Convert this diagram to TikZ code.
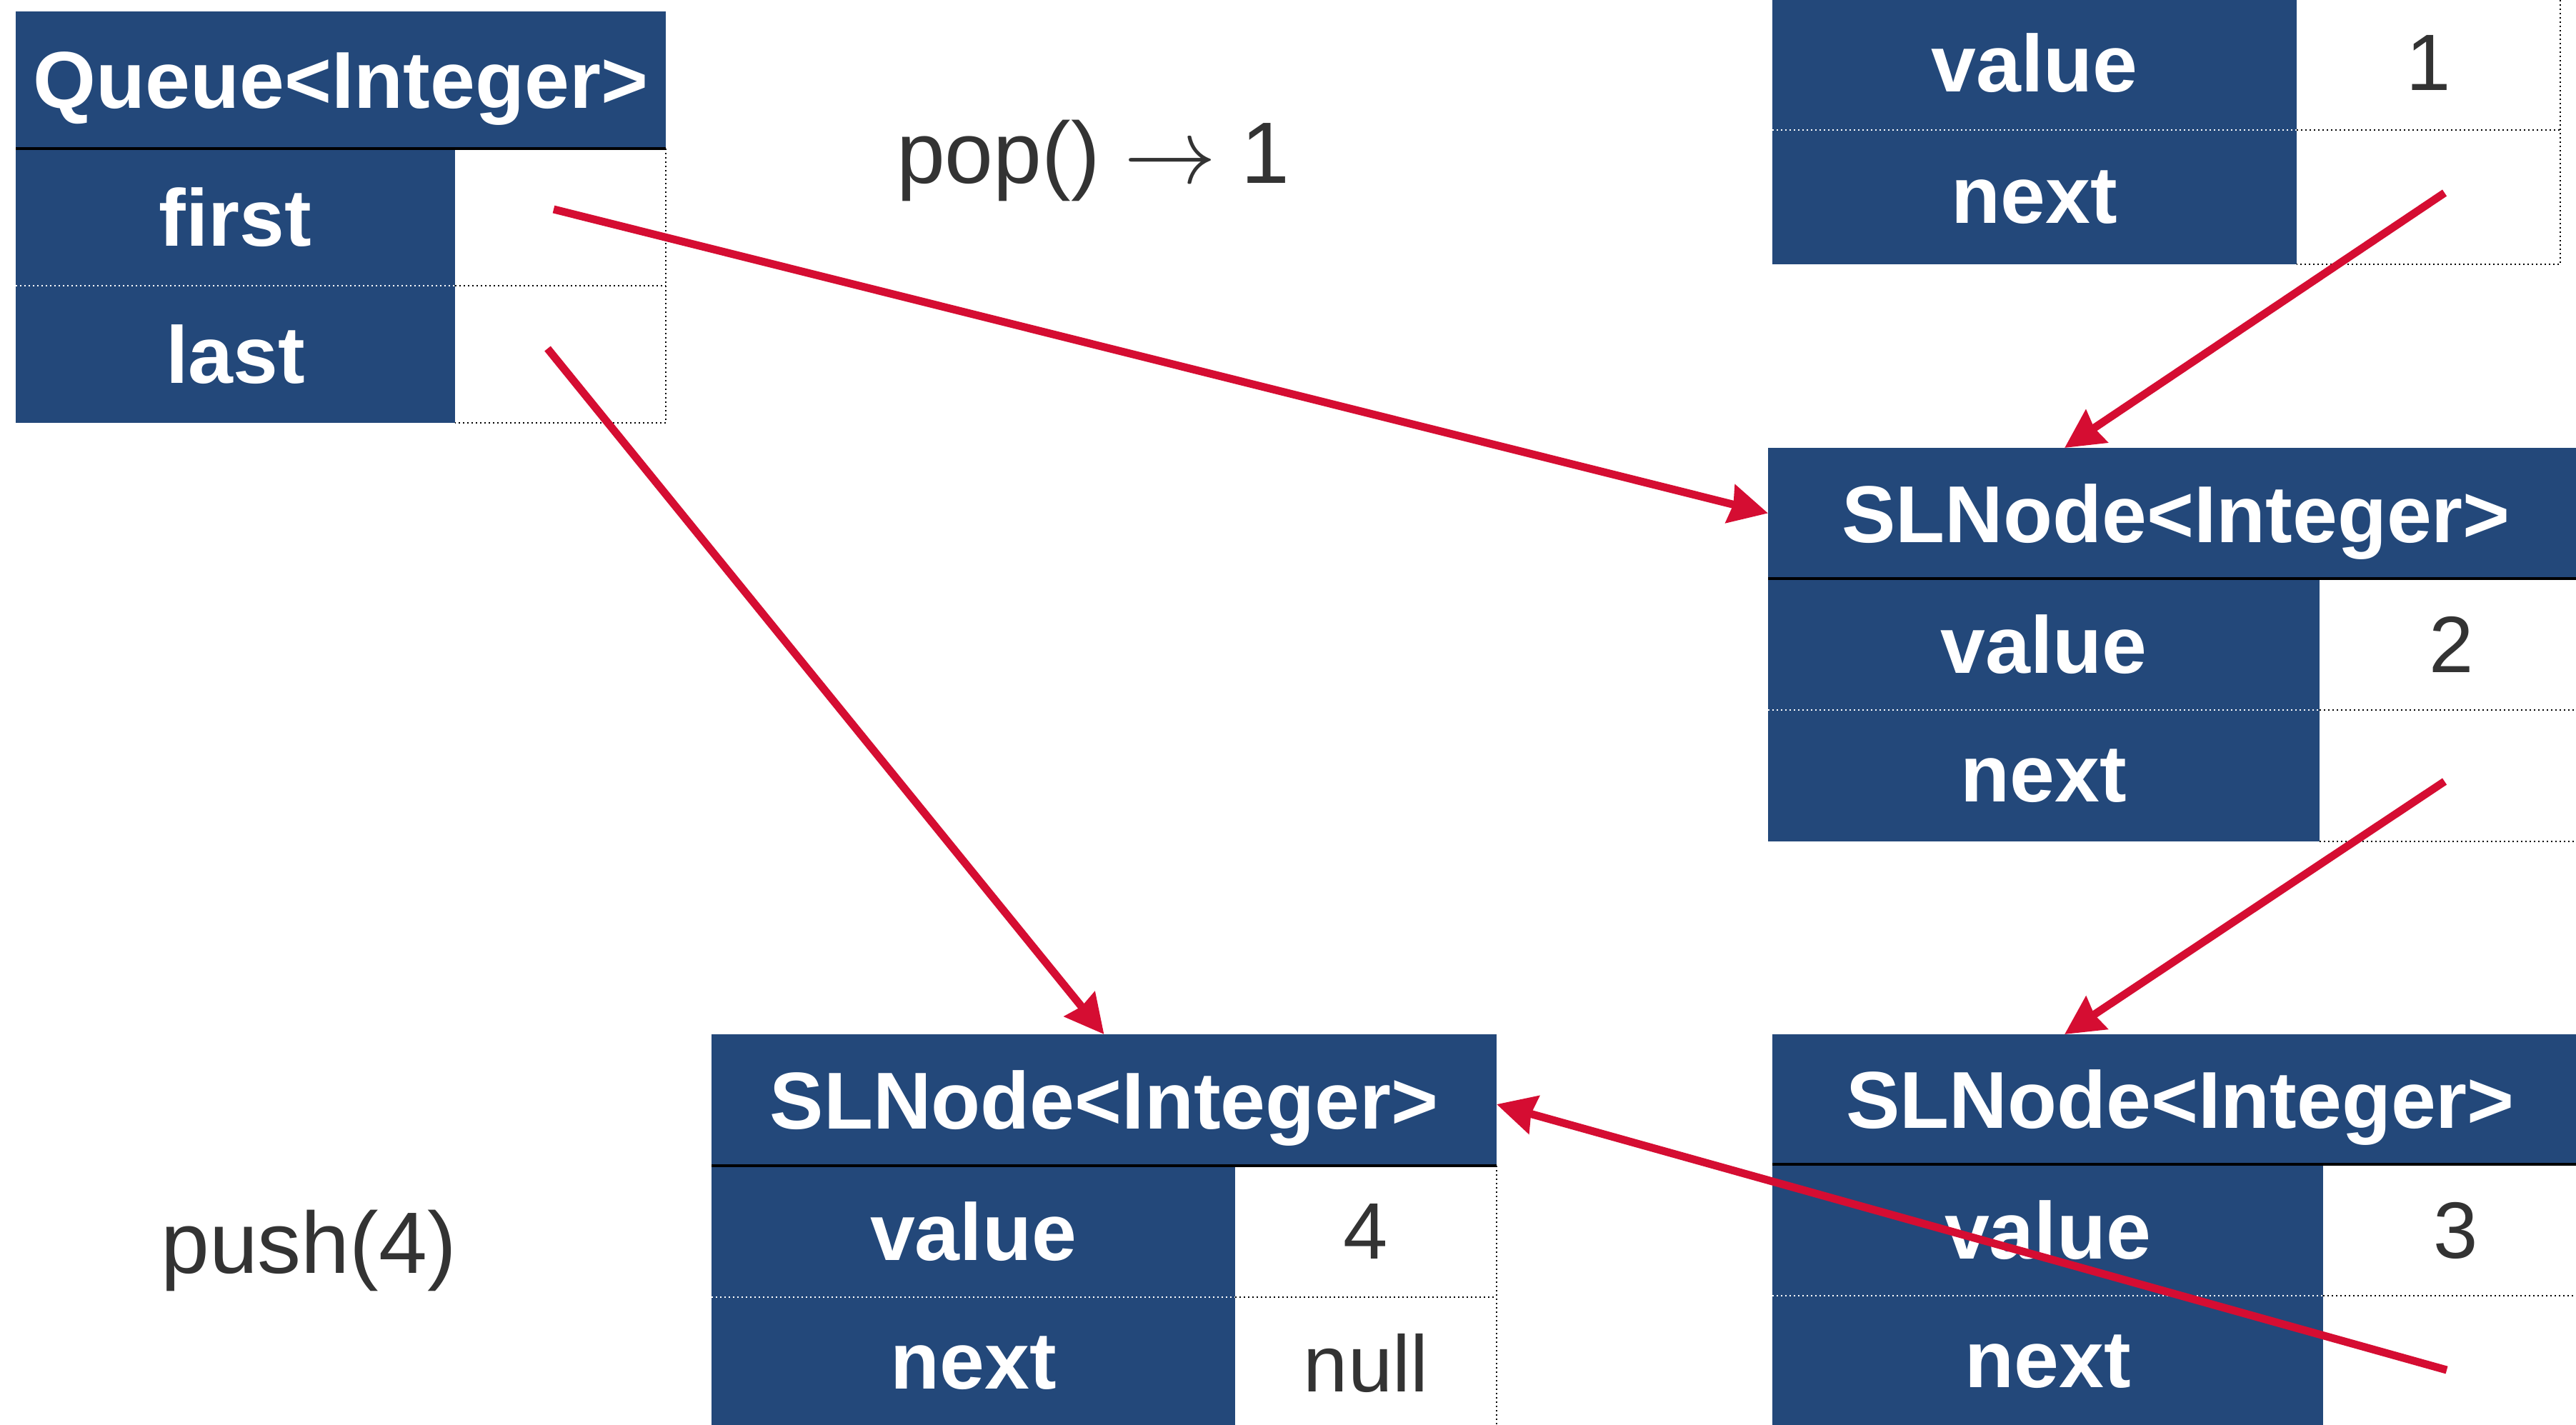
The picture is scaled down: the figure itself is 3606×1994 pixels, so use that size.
\documentclass[tikz,border=0pt]{standalone}
\usepackage{fontspec}
\setmainfont{Liberation Sans}
\usetikzlibrary{arrows.meta,calc}
\definecolor{boxblue}{HTML}{23487A}
\definecolor{ptrred}{HTML}{D50D32}
\definecolor{txtgray}{HTML}{333333}
\tikzset{
 cell/.style={anchor=north west, inner sep=0pt, outer sep=0pt, text depth=0pt},
 lbl/.style={cell, fill=boxblue, text=white, font=\bfseries\fontsize{28.25pt}{30pt}\selectfont},
 val/.style={cell, fill=white, text=txtgray, font=\fontsize{28pt}{30pt}\selectfont},
 hdrline/.style={black, line width=1pt},
 dotb/.style={black, line width=0.5pt, dash pattern=on 0.5pt off 1pt},
 dotw/.style={white, line width=0.5pt, dash pattern=on 0.5pt off 1pt},
 ptr/.style={ptrred, line width=2.75pt, -{Stealth[length=13.5pt,width=13.5pt,inset=1pt]}},
 op/.style={anchor=base, text=txtgray, inner sep=0pt, font=\fontsize{30.5pt}{32pt}\selectfont},
}
\begin{document}
\begin{tikzpicture}[x=0.25pt,y=-0.25pt]
\useasboundingbox (0,0) rectangle (3606,1994);
\clip (0,0) rectangle (3606,1994);
\fill[white] (0,0) rectangle (3606,1994);

% Queue
\node[lbl, minimum width=227.5pt, minimum height=48pt] (qh) at (22,16) {Queue<Integer>};
\node[lbl, minimum width=153.75pt, minimum height=48pt] (qfl) at (22,208) {first};
\node[val, minimum width=73.75pt, minimum height=48pt] (qfv) at (637,208) {};
\node[lbl, minimum width=153.75pt, minimum height=48pt] (qll) at (22,400) {last};
\node[val, minimum width=73.75pt, minimum height=48pt] (qlv) at (637,400) {};
\draw[dotw] (qfl.south west) -- (qfl.south east);
\draw[dotb] (qfv.south west) -- (qfv.south east);
\draw[dotb] (qfv.north east) -- (qlv.south east) -- (qlv.south west);
\draw[hdrline] (qh.south west) -- (qh.south east);

% top node (popped)
\node[lbl, minimum width=183.5pt, minimum height=47pt] (tvl) at (2481,-6) {value};
\node[val, minimum width=92.25pt, minimum height=47pt] (tvv) at (3215,-6) {1};
\node[lbl, minimum width=183.5pt, minimum height=47pt] (tnl) at (2481,182) {next};
\node[val, minimum width=92.25pt, minimum height=47pt] (tnv) at (3215,182) {};
\draw[dotw] (tvl.south west) -- (tvl.south east);
\draw[dotb] (tvv.south west) -- (tvv.south east);
\draw[dotb] (tvv.north east) -- (tnv.south east) -- (tnv.south west);

% node 2
\node[lbl, minimum width=285.5pt, minimum height=45.75pt] (bh) at (2475,627) {SLNode<Integer>};
\node[lbl, minimum width=193pt, minimum height=46pt] (bvl) at (2475,810) {value};
\node[val, minimum width=92.5pt, minimum height=46pt] (bvv) at (3247,810) {2};
\node[lbl, minimum width=193pt, minimum height=46pt] (bnl) at (2475,994) {next};
\node[val, minimum width=92.5pt, minimum height=46pt] (bnv) at (3247,994) {};
\draw[dotw] (bvl.south west) -- (bvl.south east);
\draw[dotb] (bvv.south west) -- (bvv.south east);
\draw[dotb] (bnv.south west) -- (bnv.south east);
\draw[hdrline] (bh.south west) -- (bh.south east);

% node 3
\node[lbl, minimum width=285.5pt, minimum height=45.5pt] (ch) at (2481,1448) {SLNode<Integer>};
\node[lbl, minimum width=192.75pt, minimum height=46pt] (cvl) at (2481,1630) {value};
\node[val, minimum width=92.75pt, minimum height=46pt] (cvv) at (3252,1630) {3};
\node[lbl, minimum width=192.75pt, minimum height=46pt] (cnl) at (2481,1814) {next};
\node[val, minimum width=92.75pt, minimum height=46pt] (cnv) at (3252,1814) {};
\draw[dotw] (cvl.south west) -- (cvl.south east);
\draw[dotb] (cvv.south west) -- (cvv.south east);
\draw[hdrline] (ch.south west) -- (ch.south east);

% node 4
\node[lbl, minimum width=274.75pt, minimum height=46pt] (dh) at (996,1448) {SLNode<Integer>};
\node[lbl, minimum width=183.25pt, minimum height=46pt] (dvl) at (996,1632) {value};
\node[val, minimum width=91.5pt, minimum height=46pt] (dvv) at (1729,1632) {4};
\node[lbl, minimum width=183.25pt, minimum height=46pt] (dnl) at (996,1816) {next};
\node[val, minimum width=91.5pt, minimum height=46pt] (dnv) at (1729,1816) {null};
\draw[dotw] (dvl.south west) -- (dvl.south east);
\draw[dotb] (dvv.south west) -- (dvv.south east);
\draw[dotb] (dvv.north east) -- (dnv.south east);
\draw[hdrline] (dh.south west) -- (dh.south east);

% operation labels
\node[op] (pop) at (1530,256) {pop() \scalebox{1.3}{$\rightarrow$} 1};
\node[op] (push) at (432,1782) {push(4)};

% pointers
\draw[ptr] ([shift={(-9.5,-11)}]qfv.center) -- (bh.west);
\draw[ptr] ([shift={(-18,-8)}]qlv.center) -- (dh.north);
\draw[ptr] ([shift={(22.5,-6)}]tnv.center) -- ([shift={(415,0)}]bh.north west);
\draw[ptr] ([shift={(-10,8)}]bnv.center) -- ([shift={(409,0)}]ch.north west);
\draw[ptr] ([shift={(-12.5,12)}]cnv.center) -- ([shift={(0,6)}]dh.east);
\end{tikzpicture}
\end{document}
